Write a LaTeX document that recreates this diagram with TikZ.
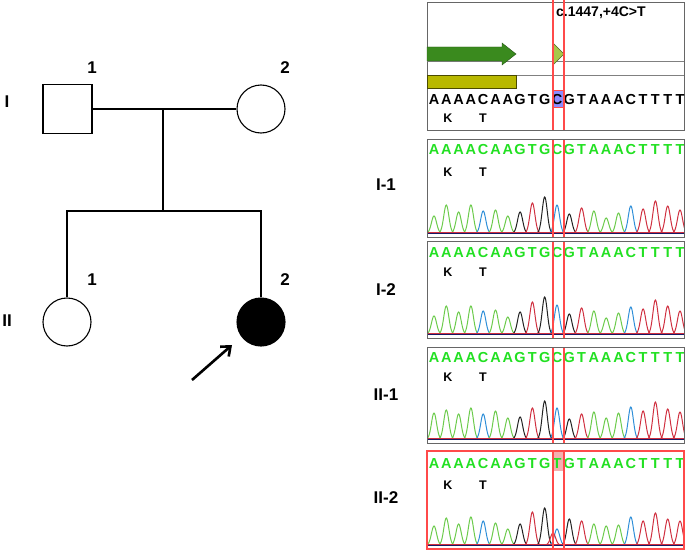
\documentclass[tikz,border=0pt]{standalone}
\usepackage{fontspec}
\setmainfont{Liberation Sans}
\usetikzlibrary{arrows.meta}
\definecolor{seqGreen}{HTML}{22E022}
\definecolor{peakA}{HTML}{6CCB4C}
\definecolor{peakC}{HTML}{2F8FD8}
\definecolor{peakG}{HTML}{222222}
\definecolor{peakT}{HTML}{D03040}
\definecolor{markRed}{HTML}{FF4A4A}
\definecolor{exonGreen}{HTML}{3A8A1E}
\definecolor{varGreen}{HTML}{A6C84A}
\definecolor{cdsBar}{HTML}{B8B800}
\definecolor{hiBlue}{HTML}{8C8CFF}
\definecolor{hiPink}{HTML}{F4B0B0}
\definecolor{boxGrey}{HTML}{666666}

\begin{document}
\begin{tikzpicture}[x=1pt,y=-1pt,
    person/.style={draw,line width=1.1pt,inner sep=0pt},
    pedline/.style={line width=1.1pt},
    biglabel/.style={font=\fontsize{17}{20}\selectfont\bfseries},
    seqletter/.style={font=\fontsize{14.5}{16}\selectfont\bfseries,inner sep=0pt},
    aalabel/.style={font=\fontsize{12.5}{14}\selectfont\bfseries,inner sep=0pt},
    marker/.style={markRed,line width=1.1pt}]
  \useasboundingbox (0,0) rectangle (685,551);
  % pedigree
  \node[person,minimum size=49pt] (I1) at (67.5,109) {};
  \node[person,circle,minimum size=48pt] (I2) at (261,109) {};
  \node[person,circle,minimum size=48pt] (II1) at (67,322) {};
  \node[person,circle,fill=black,minimum size=48pt] (II2) at (261,322) {};
  \foreach \n/\lab/\x/\y in {nI1/1/92/68,nI2/2/285/68,nII1/1/92/280,nII2/2/285/280}
    \node[biglabel] (\n) at (\x,\y) {\lab};
  \node[biglabel] (genI) at (7,102) {I};
  \node[biglabel] (genII) at (7,321) {II};
  \coordinate (mate) at (163,109);
  \coordinate (sibs) at (163,211);
  \draw[pedline] (I1.east) -- (I2.west);
  \draw[pedline] (mate) -- (sibs);
  \draw[pedline] (II1.north) -- (II1.north |- sibs) -- (II2.north |- sibs) -- (II2.north);
  \coordinate (probandTail) at (192,380);
  \coordinate (probandTip) at (232,345);
  \draw[line width=2.6pt,-{Straight Barb[length=8pt,width=13pt]}] (probandTail) -- (probandTip);
  % reference track
  \draw[boxGrey] (427,2) rectangle (684,130);
  \draw[gray] (427,61) -- (684,61);
  \draw[gray] (427,75) -- (684,75);
  \draw[fill=exonGreen,draw=exonGreen!60!black] (427,47) -- (502,47) -- (502,43) -- (516,54) -- (502,65) -- (502,61) -- (427,61) -- cycle;
  \draw[fill=varGreen,draw=varGreen!50!black] (553,43) -- (564,54) -- (553,65) -- cycle;
  \draw[fill=cdsBar,draw=cdsBar!40!black] (427,75) rectangle (516,88);
  \fill[hiBlue] (553,90) rectangle (564,107);
  \draw[markRed] (553,90) rectangle (564,107);
  \node[font=\fontsize{14}{16}\selectfont\bfseries,anchor=west,inner sep=0pt] (hgvs) at (556,13) {c.1447,+4C>T};
  \begin{scope}
    \clip (427,2) rectangle (684,130);
    \foreach \l [count=\i from 0] in {A,A,A,A,C,A,A,G,T,G,C,G,T,A,A,A,C,T,T,T,T}
      \node[seqletter] (ref\i) at (434+12.3*\i,100) {\l};
  \end{scope}
  \node[aalabel] (refK) at (448,118) {K};
  \node[aalabel] (refT) at (483,118) {T};
  \draw[marker] (553,0) -- (553,130);
  \draw[marker] (564,0) -- (564,130);
  % chromatograms
  \foreach \r/\m/\lab/\ly/\top/\bot/\sy/\ky/\base/\hts in {
      a/0/I-1/185/139/237/150/172/233/{17,28,21,28,22,23,17,21,30,36,28,19,25,22,15,20,27,24,32,27,23},
      b/0/I-2/290/241/338/253/272/334/{18,28,22,28,23,24,17,22,32,37,29,20,26,23,16,21,27,25,34,28,23},
      c/0/II-1/395/347/443/358/377/439/{26,29,25,31,25,28,21,22,31,38,31,20,25,27,21,26,32,28,37,30,27},
      d/1/II-2/498/451/549/464/485/545/{19,27,21,28,24,22,16,21,33,37,16,26,24,21,19,20,28,24,32,26,24}}{
    \node[biglabel] (row\r) at (386,\ly) {\lab};
    \ifnum\m=1
      \fill[hiPink] (553,\top) rectangle (564,\top+20);
    \fi
    \begin{scope}
      \clip (427,\top) rectangle (684,\bot);
      \foreach \l/\c [count=\i from 0] in {A/peakA,A/peakA,A/peakA,A/peakA,C/peakC,A/peakA,A/peakA,G/peakG,T/peakT,G/peakG,C/peakC,G/peakG,T/peakT,A/peakA,A/peakA,A/peakA,C/peakC,T/peakT,T/peakT,T/peakT,T/peakT}{
        \pgfmathsetmacro\h{{\hts}[\i]}
        \draw[\c,line width=1pt] plot[domain=-7:7,samples=29,smooth] ({434+12.3*\i+\x},{\base-\h*exp(-(\x/3.6)^2)});
        \ifnum\m=1 \ifnum\i=10 \def\l{T}\fi\fi
        \node[seqletter,text=seqGreen] (s\r\i) at (434+12.3*\i,\sy) {\l};
      }
      \ifnum\m=1
        \draw[peakT,line width=1pt] plot[domain=-7:7,samples=29,smooth] ({553+\x},{\base-12*exp(-(\x/3.6)^2)});
      \fi
      \draw[peakT,line width=0.8pt] (427,\base-1) -- (684,\base-1);
      \draw[peakG!70!blue,line width=0.8pt] (427,\base) -- (684,\base);
    \end{scope}
    \node[aalabel] (k\r) at (448,\ky) {K};
    \node[aalabel] (t\r) at (483,\ky) {T};
    \draw[marker] (553,\top) -- (553,\bot);
    \draw[marker] (564,\top) -- (564,\bot);
    \ifnum\m=1
      \draw[markRed,line width=1.2pt] (427,\top) rectangle (684,\bot);
    \else
      \draw[boxGrey] (427,\top) rectangle (684,\bot);
    \fi
  }
\end{tikzpicture}
\end{document}
